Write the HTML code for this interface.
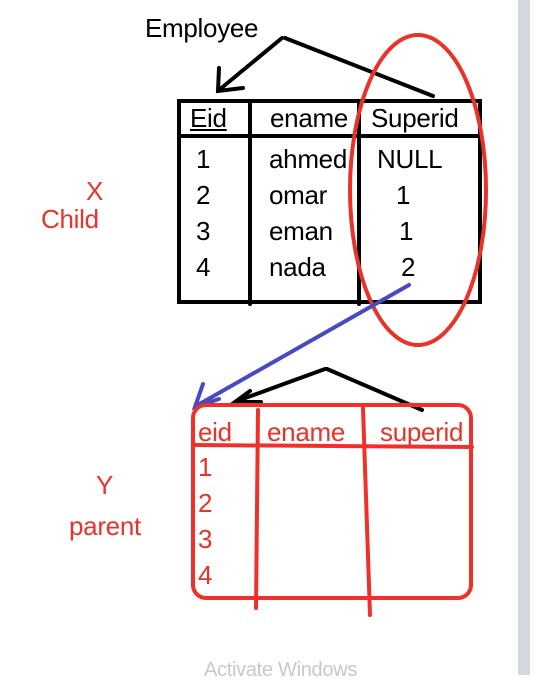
<!DOCTYPE html>
<html><head><style>
body{margin:0;width:538px;height:675px;overflow:hidden;background:#fff;position:relative;font-family:"Liberation Sans",sans-serif}
.t{position:absolute;font-size:26px;white-space:nowrap;line-height:1;letter-spacing:-0.3px}
.r{color:#e8322a}
</style></head><body>
<div style="position:absolute;left:518px;top:0;width:12px;height:675px;background:#d4d8de"></div>
<svg width="538" height="675" style="position:absolute;left:0;top:0">
<g stroke="#000" stroke-width="4" fill="none" stroke-linecap="round">
<rect x="179" y="101" width="301" height="201"/>
<line x1="179" y1="136" x2="480" y2="136"/>
<line x1="250" y1="101" x2="250" y2="304"/>
<line x1="359" y1="101" x2="359" y2="304"/>
<line x1="282" y1="38" x2="219" y2="90"/>
<polyline points="219,68 218,91 243,88"/>
<line x1="285" y1="38" x2="433" y2="96"/>
<line x1="325" y1="369" x2="237" y2="401"/>
<polyline points="250,391 235,402 261,402"/>
<line x1="327" y1="369" x2="422" y2="410"/>
</g>
<ellipse cx="418" cy="190" rx="68" ry="155" stroke="#e8322a" stroke-width="4" fill="none"/>
<g stroke="#4a4ac0" stroke-width="4" fill="none" stroke-linecap="round">
<line x1="409" y1="285" x2="196" y2="406"/>
<polyline points="203,384 195,407 219,399"/>
</g>
<g stroke="#f2302a" stroke-width="4" fill="none" stroke-linecap="round">
<rect x="193" y="405" width="278" height="193" rx="13"/>
<line x1="194" y1="445" x2="472" y2="447"/>
<line x1="258" y1="410" x2="256" y2="608"/>
<line x1="363" y1="408" x2="370" y2="615"/>
</g>
</svg>
<div class="t" style="left:145px;top:15px">Employee</div>
<div class="t" style="left:190px;top:105px;text-decoration:underline">Eid</div>
<div class="t" style="left:270px;top:105px">ename</div>
<div class="t" style="left:371px;top:105px">Superid</div>
<div class="t" style="left:196px;top:146px">1</div>
<div class="t" style="left:196px;top:182px">2</div>
<div class="t" style="left:196px;top:218px">3</div>
<div class="t" style="left:196px;top:254px">4</div>
<div class="t" style="left:269px;top:146px">ahmed</div>
<div class="t" style="left:269px;top:182px">omar</div>
<div class="t" style="left:269px;top:218px">eman</div>
<div class="t" style="left:269px;top:254px">nada</div>
<div class="t" style="left:377px;top:146px">NULL</div>
<div class="t" style="left:396px;top:182px">1</div>
<div class="t" style="left:399px;top:218px">1</div>
<div class="t" style="left:401px;top:254px">2</div>
<div class="t r" style="left:86px;top:178px">X</div>
<div class="t r" style="left:41px;top:206px">Child</div>
<div class="t r" style="left:96px;top:472px">Y</div>
<div class="t r" style="left:69px;top:513px">parent</div>
<div class="t r" style="left:198px;top:419px">eid</div>
<div class="t r" style="left:267px;top:419px">ename</div>
<div class="t r" style="left:380px;top:419px">superid</div>
<div class="t r" style="left:198px;top:454px">1</div>
<div class="t r" style="left:198px;top:490px">2</div>
<div class="t r" style="left:198px;top:526px">3</div>
<div class="t r" style="left:198px;top:562px">4</div>
<div class="t" style="left:204px;top:660px;color:#c8c8c8;font-size:20px">Activate Windows</div>
</body></html>
